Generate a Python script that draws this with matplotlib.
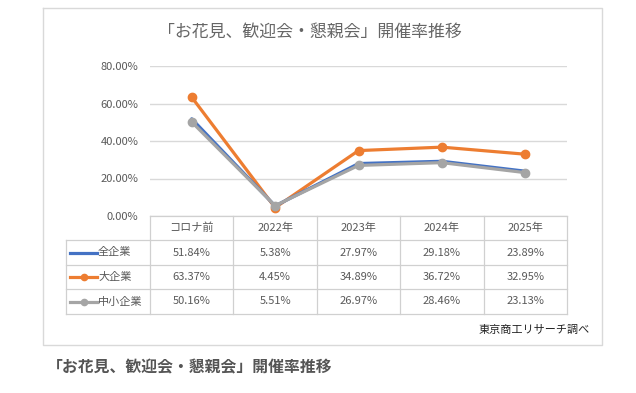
import matplotlib
matplotlib.use("Agg")
import matplotlib.pyplot as plt
from matplotlib.lines import Line2D
import numpy as np

plt.rcParams['font.family'] = ['Noto Sans CJK JP', 'DejaVu Sans']

title = "「お花見、歓迎会・懇親会」開催率推移"
categories = ["コロナ前", "2022年", "2023年", "2024年", "2025年"]
series_names = ["全企業", "大企業", "中小企業"]
all_firms = [51.84, 5.38, 27.97, 29.18, 23.89]
large_firms = [63.37, 4.45, 34.89, 36.72, 32.95]
sme_firms = [50.16, 5.51, 26.97, 28.46, 23.13]
yticks = [0, 20, 40, 60, 80]
source = "東京商工リサーチ調べ"

colors = ["#4472C4", "#ED7D31", "#A5A5A5"]
markers = [None, "o", "o"]
series = [all_firms, large_firms, sme_firms]

W, H = 636, 393
fig = plt.figure(figsize=(W / 100, H / 100), dpi=100)
fig.patch.set_facecolor("white")

# overlay axes in pixel coordinates
ov = fig.add_axes([0, 0, 1, 1])
ov.set_xlim(0, W)
ov.set_ylim(H, 0)
ov.axis("off")

grid_c = "#d9d9d9"
text_c = "#595959"

# frame
ov.plot([43, 602, 602, 43, 43], [8, 8, 345, 345, 8], color="#d9d9d9", lw=1)

# plot axes
x0, x1 = 150, 567
y0, y1 = 216, 66
ax = fig.add_axes([x0 / W, (H - y0) / H, (x1 - x0) / W, (y0 - y1) / H])
ax.set_xlim(-0.5, len(categories) - 0.5)
ax.set_ylim(0, 80)
ax.set_facecolor("none")
for s in ax.spines.values():
    s.set_visible(False)
ax.set_yticks(yticks)
ax.set_yticklabels([f"{v:.2f}%" for v in yticks], color=text_c, fontsize=8)
ax.tick_params(axis="y", length=0, pad=8.5)
ax.set_xticks([])
ax.grid(axis="y", color=grid_c, lw=1)
ax.set_axisbelow(True)

xs = np.arange(len(categories))
order = [1, 0, 2]
for i in order:
    ax.plot(xs, series[i], color=colors[i], lw=2.3, marker=markers[i],
            markersize=6, solid_capstyle="round", zorder=3 + (i == 2))

# title
ov.text(310, 32, title, ha="center", va="center", fontsize=12.2, color="#666666")

# table
col_edges = np.linspace(x0, x1, len(categories) + 1)
row_edges = [216, 240, 265, 289, 314]
lc = "#d0d0d0"
for xe in col_edges:
    ov.plot([xe, xe], [row_edges[0], row_edges[-1]], color=lc, lw=0.9)
ov.plot([66, 66], [row_edges[1], row_edges[-1]], color=lc, lw=0.9)
ov.plot([x0, x1], [row_edges[0], row_edges[0]], color=lc, lw=0.9)
for ye in row_edges[1:]:
    ov.plot([66, x1], [ye, ye], color=lc, lw=0.9)

centers = (col_edges[:-1] + col_edges[1:]) / 2
hy = (row_edges[0] + row_edges[1]) / 2
for cx, cat in zip(centers, categories):
    ov.text(cx, hy, cat, ha="center", va="center", fontsize=8, color=text_c)

for r, (name, vals) in enumerate(zip(series_names, series)):
    ry = (row_edges[r + 1] + row_edges[r + 2]) / 2
    ov.add_line(Line2D([70, 97], [ry, ry], color=colors[r], lw=2.3,
                       marker=None))
    if markers[r]:
        ov.plot([83.5], [ry], marker=markers[r], color=colors[r], markersize=4.5)
    ov.text(98, ry, name, ha="left", va="center", fontsize=8, color=text_c)
    for cx, v in zip(centers, vals):
        ov.text(cx, ry, f"{v:.2f}%", ha="center", va="center", fontsize=8,
                color=text_c)

ov.text(590, 330, source, ha="right", va="center", fontsize=8, color="#222222")

# caption
ov.text(47, 367, title, ha="left", va="center", fontsize=11.4,
        fontweight="bold", color="#555555")

fig.savefig("out.png", dpi=100, facecolor="white")
